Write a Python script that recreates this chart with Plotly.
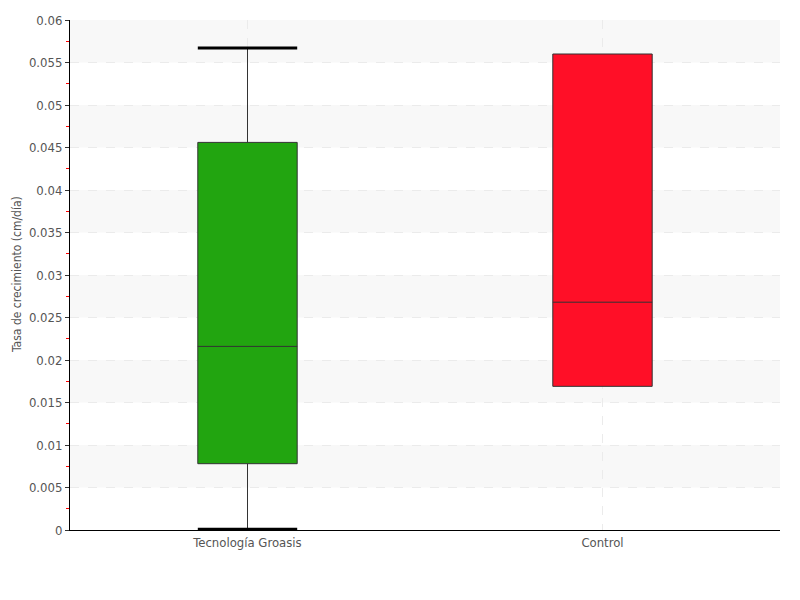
import plotly.graph_objects as go

categories = ["Tecnología Groasis", "Control"]
lower_fence = [0.0001, 0.0169]
q1 = [0.0078, 0.0169]
median = [0.0216, 0.0268]
q3 = [0.0456, 0.0560]
upper_fence = [0.0567, 0.0560]
colors = ["#22a510", "#ff0f27"]

y_title = "Tasa de crecimiento (cm/día)"
font_family = "Liberation Sans Narrow, DejaVu Sans Condensed, sans-serif"

BOX_W = 0.28

fig = go.Figure()
for i, cat in enumerate(categories):
    fig.add_trace(go.Box(
        x=[cat], q1=[q1[i]], median=[median[i]], q3=[q3[i]],
        lowerfence=[lower_fence[i]], upperfence=[upper_fence[i]],
        fillcolor=colors[i], line=dict(color="#333333", width=1),
        width=BOX_W, whiskerwidth=0, showlegend=False, hoverinfo="skip",
    ))

shapes = []
# alternating bands
step = 0.005
k = 0
while k * step < 0.06 - 1e-9:
    if k % 2 == 1:
        shapes.append(dict(type="rect", xref="paper", yref="y", x0=0, x1=1,
                           y0=k * step, y1=(k + 1) * step,
                           fillcolor="#f8f8f8", line=dict(width=0), layer="below"))
    k += 1
# whisker caps
for i in range(len(categories)):
    for fence, edge in ((lower_fence[i], q1[i]), (upper_fence[i], q3[i])):
        if abs(fence - edge) > 1e-9:
            shapes.append(dict(type="line", xref="x", yref="y",
                               x0=i - BOX_W / 2, x1=i + BOX_W / 2, y0=fence, y1=fence,
                               line=dict(color="black", width=3), layer="above"))

fig.update_layout(
    width=800, height=600,
    margin=dict(l=62, r=28, t=12, b=78),
    paper_bgcolor="white", plot_bgcolor="white",
    boxmode="overlay",
    font=dict(family=font_family, size=13, color="#555555"),
    shapes=shapes,
    annotations=[dict(text=y_title, textangle=-90, xref="paper", yref="paper",
                      x=0, y=0.5, xanchor="center", yanchor="middle", xshift=-53,
                      showarrow=False, font=dict(size=12, color="#555555"))],
    xaxis=dict(
        type="category", range=[-0.5, 1.5], automargin=False,
        showline=True, linecolor="black", linewidth=1,
        showgrid=True, gridcolor="#ebebeb", griddash="dash",
        ticks="", tickfont=dict(size=13, color="#555555"),
        zeroline=False,
    ),
    yaxis=dict(
        range=[0, 0.06], dtick=0.005, tick0=0, automargin=False,
        tickformat="~g",
        showline=True, linecolor="black", linewidth=1,
        showgrid=True, gridcolor="#ebebeb", griddash="dash",
        ticks="outside", ticklen=4, tickcolor="#333333",
        tickfont=dict(size=13, color="#555555"),
        minor=dict(ticks="outside", ticklen=3, tickcolor="red", dtick=0.005, tick0=0.0025, showgrid=False),
        zeroline=False,
    ),
)

fig.write_html("out.html")
